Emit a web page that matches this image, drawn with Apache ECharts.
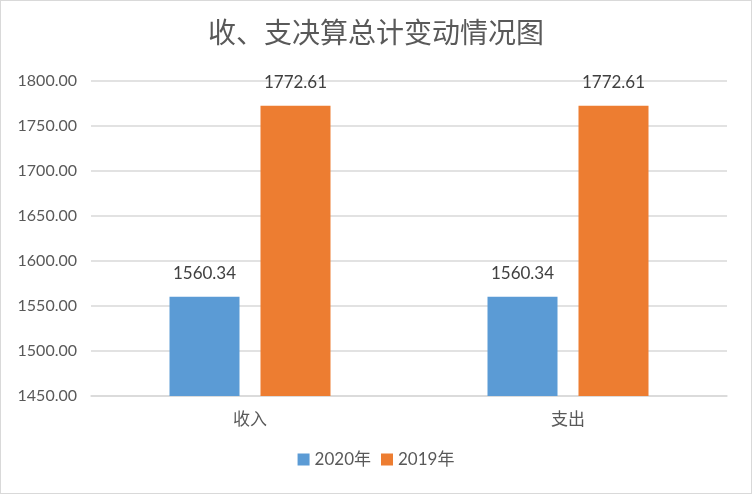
<!DOCTYPE html>
<html>
<head>
<meta charset="utf-8">
<script src="https://cdn.jsdelivr.net/npm/echarts@6/dist/echarts.min.js"></script>
<style>
html, body { margin: 0; padding: 0; background: #fff; }
#pic1 { width: 750px; height: 492px; border: 1px solid #d9d9d9; }
</style>
</head>
<body>
<div id="pic1"></div>
<script>
// 收、支决算总计数据
var categories = ['收入', '支出'];
var seriesNames = ['2020年', '2019年'];
var values2020 = [1560.34, 1560.34];
var values2019 = [1772.61, 1772.61];

var myChart = echarts.init(document.getElementById('pic1'));

var labelStyle = {
    show: true,
    position: 'top',
    distance: 15,
    color: '#404040',
    fontSize: 17,
    fontFamily: 'Lato, "Noto Sans CJK SC", sans-serif',
    formatter: function (p) { return p.value.toFixed(2); }
};

option = {
    animation: false,
    textStyle: { fontFamily: 'Lato, "Noto Sans CJK SC", sans-serif' },
    title: {
        text: '收、支决算总计变动情况图',
        left: 'center',
        top: 12,
        textStyle: {
            color: '#595959',
            fontSize: 28,
            fontWeight: 'normal',
            fontFamily: '"Noto Sans CJK SC", sans-serif'
        }
    },
    color: ['#5b9bd5', '#ed7d31'],
    legend: {
        bottom: 20,
        left: 'center',
        itemWidth: 12,
        itemHeight: 12,
        itemGap: 10,
        icon: 'rect',
        textStyle: { color: '#595959', fontSize: 17, fontFamily: 'Lato, "Noto Sans CJK SC", sans-serif' },
        data: seriesNames
    },
    grid: { left: 90, right: 24, top: 80, bottom: 97, containLabel: false },
    xAxis: {
        type: 'category',
        data: categories,
        axisLine: { lineStyle: { color: '#d9d9d9', width: 1.5 } },
        axisTick: { show: false },
        axisLabel: { color: '#595959', fontSize: 17, margin: 14, fontFamily: '"Noto Sans CJK SC", sans-serif' }
    },
    yAxis: {
        type: 'value',
        min: 1450,
        max: 1800,
        interval: 50,
        axisLine: { show: false },
        axisTick: { show: false },
        splitLine: { lineStyle: { color: '#d9d9d9', width: 1.5 } },
        axisLabel: {
            color: '#595959',
            fontSize: 16,
            margin: 14,
            formatter: function (v) { return v.toFixed(2); }
        }
    },
    series: [
        {
            name: seriesNames[0],
            type: 'bar',
            barWidth: 70,
            barGap: '30%',
            data: values2020,
            label: labelStyle
        },
        {
            name: seriesNames[1],
            type: 'bar',
            barWidth: 70,
            barGap: '30%',
            data: values2019,
            label: labelStyle
        }
    ]
};
myChart.setOption(option);
</script>
</body>
</html>
